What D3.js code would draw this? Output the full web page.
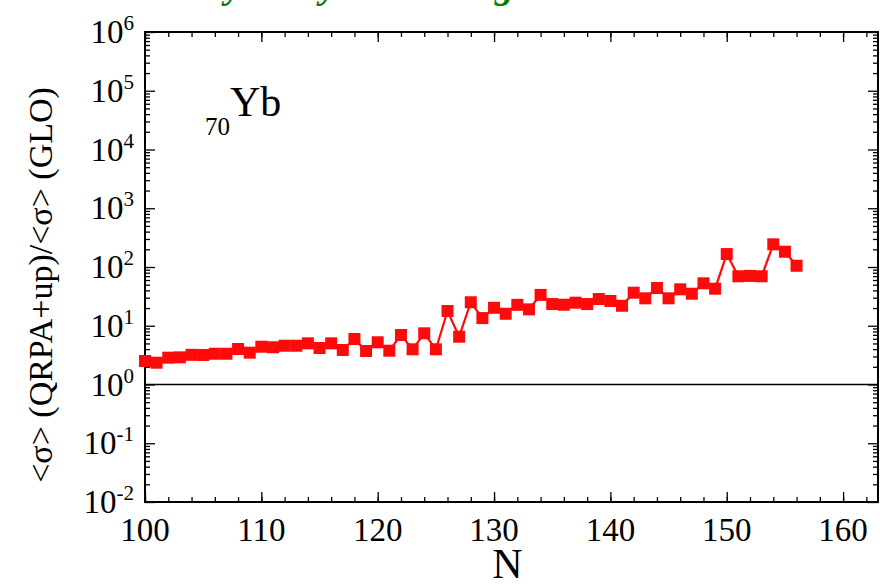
<!DOCTYPE html>
<html><head><meta charset="utf-8">
<script src="https://cdn.jsdelivr.net/npm/d3@7"></script>
<style>body{margin:0;background:#fff}svg{display:block}</style>
</head><body>
<svg id="chart" width="880" height="584"></svg>
<script>
const neutronN = [100,101,102,103,104,105,106,107,108,109,110,111,112,113,114,115,116,117,118,119,
  120,121,122,123,124,125,126,127,128,129,130,131,132,133,134,135,136,137,138,139,
  140,141,142,143,144,145,146,147,148,149,150,151,152,153,154,155,156];
const ratio = [2.51,2.35,2.86,2.9,3.2,3.18,3.34,3.34,4.02,3.48,4.4,4.3,4.57,4.57,5.02,4.18,5.02,3.87,5.95,3.72,
  5.23,3.76,6.96,3.97,7.44,3.97,17.8,6.51,25.1,13.5,20.2,16.0,22.7,19.0,33.5,23.4,22.8,24.7,23.4,28.5,
  26.4,21.9,36.5,29.3,43.9,29.3,41.7,35.1,52.8,42.7,166,69.5,70.5,69.5,243,182,105];
const xTicks = [100,110,120,130,140,150,160];
const yExponents = [-2,-1,0,1,2,3,4,5,6];
const xDomain = [100,163];
const yDomain = [1e-2,1e6];
const refValue = 1;
const titleWords = ["Mostly","by","strong"];

const svg = d3.select("#chart");
const L=145, R=878, T=32, B=502;
const x = d3.scaleLinear().domain(xDomain).range([L,R]);
const y = d3.scaleLog().domain(yDomain).range([B,T]);
const serif = "'Liberation Serif','Times New Roman',serif";

// green cut-off title (only descenders visible)
const titleEnds = [242,337,514];
svg.append("g").selectAll("text").data(titleWords).join("text")
  .attr("x",(d,i)=>titleEnds[i]).attr("y",-2).attr("text-anchor","end").attr("fill","#008000")
  .attr("font-family",serif).attr("font-size",38).attr("font-weight","bold").attr("font-style","italic")
  .text(d=>d);

// clip
svg.append("clipPath").attr("id","clip").append("rect").attr("x",L).attr("y",T).attr("width",R-L).attr("height",B-T);

// reference line
svg.append("line").attr("x1",L).attr("x2",R).attr("y1",y(refValue)).attr("y2",y(refValue))
  .attr("stroke","#000").attr("stroke-width",1.6);

// ticks (inward) with d3 axes
const xMinor = d3.range(100,164,2);
function xAxisInside(isTop){
  const mk = isTop? d3.axisBottom : d3.axisTop;
  svg.append("g").attr("transform",`translate(0,${isTop?T:B})`).call(mk(x).tickValues(xMinor).tickSize(5).tickFormat(""))
    .call(s=>{s.select(".domain").remove();s.selectAll("line").attr("stroke","#000").attr("stroke-width",1.3);});
  svg.append("g").attr("transform",`translate(0,${isTop?T:B})`).call(mk(x).tickValues(xTicks).tickSize(10).tickFormat(""))
    .call(s=>{s.select(".domain").remove();s.selectAll("line").attr("stroke","#000").attr("stroke-width",1.3);});
}
xAxisInside(false);
xAxisInside(true);

const yMinor = [];
for (let e=-2;e<6;e++) for (let m=2;m<=9;m++) yMinor.push(m*Math.pow(10,e));
const yMajor = yExponents.map(e=>Math.pow(10,e));
function yAxisInside(isRight){
  const mk = isRight? d3.axisLeft : d3.axisRight;
  svg.append("g").attr("transform",`translate(${isRight?R:L},0)`).call(mk(y).tickValues(yMinor).tickSize(5).tickFormat(""))
    .call(s=>{s.select(".domain").remove();s.selectAll("line").attr("stroke","#000").attr("stroke-width",1.3);});
  svg.append("g").attr("transform",`translate(${isRight?R:L},0)`).call(mk(y).tickValues(yMajor).tickSize(10).tickFormat(""))
    .call(s=>{s.select(".domain").remove();s.selectAll("line").attr("stroke","#000").attr("stroke-width",1.3);});
}
yAxisInside(false);
yAxisInside(true);

// frame
svg.append("rect").attr("x",L).attr("y",T).attr("width",R-L).attr("height",B-T)
  .attr("fill","none").attr("stroke","#000").attr("stroke-width",2);

// x tick labels
svg.append("g").selectAll("text").data(xTicks).join("text")
  .attr("x",d=>x(d)).attr("y",B+39).attr("text-anchor","middle")
  .attr("font-family",serif).attr("font-size",33).text(d=>d);

// y tick labels
const yl = svg.append("g").selectAll("text").data(yExponents).join("text")
  .attr("x",134).attr("y",d=>y(Math.pow(10,d))+11).attr("text-anchor","end")
  .attr("font-family",serif).attr("font-size",33);
yl.append("tspan").text("10");
yl.append("tspan").attr("dy",-13).attr("font-size",21).text(d=>d);

// axis titles
svg.append("text").attr("x",(L+R)/2 - 4).attr("y",578).attr("text-anchor","middle")
  .attr("font-family",serif).attr("font-size",42).text("N");
svg.append("text").attr("transform",`translate(52,${(T+B)/2+18}) rotate(-90)`).attr("text-anchor","middle")
  .attr("font-family",serif).attr("font-size",34).text("<σ> (QRPA+up)/<σ> (GLO)");

// element label
const el = svg.append("text").attr("x",205).attr("y",116).attr("font-family",serif).attr("font-size",42);
el.append("tspan").attr("font-size",25).attr("dy",19).text("70");
el.append("tspan").attr("dy",-19).text("Yb");

// data
const data = neutronN.map((n,i)=>({n, v: ratio[i]}));
const plot = svg.append("g").attr("clip-path","url(#clip)");
plot.append("path").datum(data).attr("fill","none").attr("stroke","#ff0a0a").attr("stroke-width",2.2)
  .attr("d", d3.line().x(d=>x(d.n)).y(d=>y(d.v)));
svg.append("g").selectAll("rect").data(data).join("rect")
  .attr("x",d=>x(d.n)-6).attr("y",d=>y(d.v)-6).attr("width",12).attr("height",12)
  .attr("fill","#ff0a0a");
</script>
</body></html>
